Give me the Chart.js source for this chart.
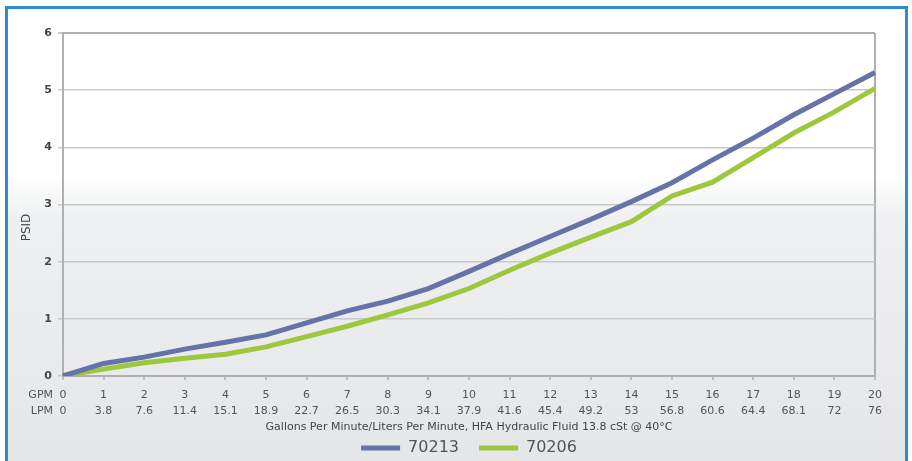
<!DOCTYPE html>
<html>
<head>
<meta charset="utf-8">
<script src="https://cdn.jsdelivr.net/npm/chart.js@4"></script>
<style>
  html, body { margin: 0; padding: 0; background: #fff; }
  #frame {
    position: absolute; left: 5px; top: 6px; width: 897px; height: 470px;
    border: 3px solid #2f8ccc; border-bottom: none;
    background: linear-gradient(180deg, #ffffff 0px, #ffffff 165px, #eef0f1 210px, #e3e5e7 100%);
  }
  #wrap { position: absolute; left: 0; top: 0; width: 897px; height: 457px; }
</style>
</head>
<body>
<div id="frame"><div id="wrap"><canvas id="chart"></canvas></div></div>
<script>
'use strict';

// ── Data ─────────────────────────────────────────────────────────────────────
const GPM = ['0','1','2','3','4','5','6','7','8','9','10','11','12','13','14','15','16','17','18','19','20'];
const LPM = ['0','3.8','7.6','11.4','15.1','18.9','22.7','26.5','30.3','34.1','37.9','41.6','45.4','49.2','53','56.8','60.6','64.4','68.1','72','76'];
const S70213 = [0, 0.22, 0.33, 0.47, 0.59, 0.72, 0.93, 1.14, 1.31, 1.53, 1.83, 2.14, 2.44, 2.74, 3.05, 3.38, 3.78, 4.16, 4.57, 4.94, 5.31];
const S70206 = [0, 0.12, 0.23, 0.31, 0.38, 0.51, 0.69, 0.87, 1.07, 1.28, 1.53, 1.85, 2.15, 2.43, 2.70, 3.15, 3.39, 3.82, 4.25, 4.62, 5.03];
const Y_TICKS = [0, 1, 2, 3, 4, 5, 6];

// ── Helpers ──────────────────────────────────────────────────────────────────

// "GPM" / "LPM" row captions and the PSID axis caption
const captions = {
  id: 'captions',
  afterDraw(chart) {
    const { ctx, chartArea } = chart;
    const x = chart.scales.x;
    ctx.save();
    ctx.font = '11px "DejaVu Sans"';
    ctx.fillStyle = '#555';
    ctx.textAlign = 'right';
    ctx.textBaseline = 'middle';
    ctx.fillText('GPM', x.left - 10, x.top + 19);
    ctx.fillText('LPM', x.left - 10, x.top + 35);

    ctx.translate(chart.scales.y.left + 19, (chartArea.top + chartArea.bottom) / 2 + 23);
    ctx.rotate(-Math.PI / 2);
    ctx.textAlign = 'center';
    ctx.font = '12px "DejaVu Sans"';
    ctx.fillStyle = '#444';
    ctx.fillText('PSID', 0, 0);
    ctx.restore();
  }
};

function legendItems(chart) {
  const items = Chart.defaults.plugins.legend.labels.generateLabels(chart);
  items.forEach(i => { i.lineWidth = 0; });
  return items;
}

// ── Chart ────────────────────────────────────────────────────────────────────
new Chart(document.getElementById('chart'), {
  type: 'line',
  data: {
    labels: GPM,
    datasets: [
      { label: '70213', data: S70213, borderColor: '#6573a8', backgroundColor: '#6573a8',
        borderWidth: 5, pointRadius: 0, tension: 0 },
      { label: '70206', data: S70206, borderColor: '#9dc73c', backgroundColor: '#9dc73c',
        borderWidth: 5, pointRadius: 0, tension: 0 },
    ],
  },
  options: {
    responsive: true,
    maintainAspectRatio: false,
    animation: false,
    layout: { padding: { top: 24, right: 30, left: 0, bottom: 0 } },
    plugins: {
      tooltip: { enabled: false },
      legend: {
        position: 'bottom',
        fullSize: false,
        labels: {
          boxWidth: 39, boxHeight: 5, padding: 20,
          color: '#555', font: { family: 'DejaVu Sans', size: 16 },
          generateLabels: legendItems,
        },
      },
    },
    scales: {
      x: {
        offset: false,
        afterFit(scale) { scale.height = 44; },
        grid: {
          color: c => (c.index === GPM.length - 1 ? '#b0b0b0' : 'transparent'),
          lineWidth: 2,
          tickColor: '#c0c0c0',
          tickLength: 4,
        },
        border: { color: '#b0b0b0', width: 2 },
        ticks: {
          autoSkip: false, maxRotation: 0, padding: 7,
          color: '#555', font: { family: 'DejaVu Sans', size: 11, lineHeight: 1.45 },
          callback: (v, i) => [GPM[i], LPM[i]],
        },
        title: {
          display: true,
          text: 'Gallons Per Minute/Liters Per Minute, HFA Hydraulic Fluid 13.8 cSt @ 40°C',
          color: '#444', font: { family: 'DejaVu Sans', size: 11 },
          padding: { top: 0, bottom: -14 },
        },
      },
      y: {
        min: 0, max: 6,
        afterFit(scale) { scale.width = 55; },
        afterBuildTicks(scale) { scale.ticks = Y_TICKS.map(v => ({ value: v })); },
        grid: {
          color: c => (c.index === Y_TICKS.length - 1 ? '#b0b0b0' : '#c8c8c8'),
          lineWidth: c => (c.index === Y_TICKS.length - 1 ? 2 : 1.5),
          tickColor: '#c8c8c8', tickLength: 5,
        },
        border: { color: '#b0b0b0', width: 2 },
        ticks: {
          padding: 6, color: '#444',
          font: { family: 'DejaVu Sans', size: 11, weight: 'bold' },
        },
      },
    },
  },
  plugins: [captions],
});
</script>
</body>
</html>
